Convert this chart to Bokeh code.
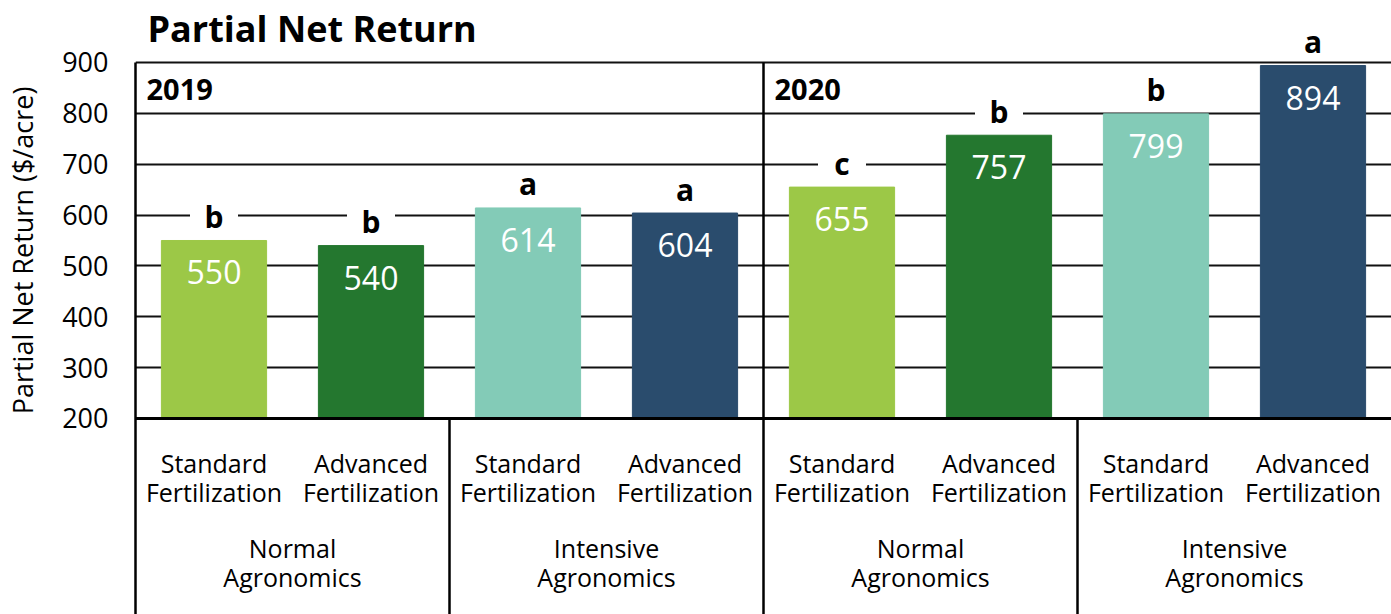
import numpy as np
from math import pi
from bokeh.plotting import figure
from bokeh.models import ColumnDataSource, FixedTicker, Range1d, Span, Label
from bokeh.core.properties import value
from bokeh.embed import file_html
from bokeh.resources import INLINE

# ---- data ----
years = ["2019", "2020"]
agronomics = ["Normal\nAgronomics", "Intensive\nAgronomics"]
fertilization = ["Standard\nFertilization", "Advanced\nFertilization"]
net_return = [550, 540, 614, 604, 655, 757, 799, 894]
letters = ["b", "b", "a", "a", "c", "b", "b", "a"]
bar_colors = ["#9CC847", "#24772F", "#83CBB7", "#2A4C6D"]
y_ticks = [200, 300, 400, 500, 600, 700, 800, 900]

FONT = "Open Sans"
W, H = 1391, 614
n_f, n_a, n_y = len(fertilization), len(agronomics), len(years)
n = n_f * n_a * n_y
idx = np.arange(n)
cat_labels = [fertilization[i % n_f] for i in range(n)]
colors = [bar_colors[i % (n_f * n_a)] for i in range(n)]

y_min, y_max = y_ticks[0], y_ticks[-1]
y_bottom, y_top = -185.4, 1021.9
units_per_px = (y_top - y_bottom) / H
letter_gap_px = 24
letter_y = [v + letter_gap_px * units_per_px for v in net_return]

src = ColumnDataSource(dict(x=idx, top=net_return, letter=letters, ly=letter_y,
                            lbl=[str(v) for v in net_return],
                            cat=cat_labels, color=colors))

p = figure(width=W, height=H, output_backend="svg", toolbar_location=None,
           x_range=Range1d(-0.5, n - 0.5), y_range=Range1d(y_bottom, y_top),
           min_border_left=135, min_border_right=0, min_border_top=0,
           min_border_bottom=0)
p.outline_line_color = None
p.background_fill_color = "white"
p.xaxis.visible = False
p.xgrid.visible = False

ax = p.yaxis[0]
ax.ticker = FixedTicker(ticks=y_ticks)
ax.bounds = (y_bottom, y_max)
ax.axis_line_color = "#000000"
ax.axis_line_width = 2.5
ax.major_tick_line_color = None
ax.minor_tick_line_color = None
ax.major_tick_out = 0
ax.major_tick_in = 0
ax.major_label_standoff = 27
ax.major_label_text_font = FONT
ax.major_label_text_font_size = "27px"
ax.major_label_text_color = "#000000"

p.ygrid.ticker = FixedTicker(ticks=y_ticks[1:])
p.ygrid.grid_line_color = "#111111"
p.ygrid.grid_line_width = 2

p.add_layout(Span(location=y_min, dimension="width", line_color="#000000", line_width=3))

# bars
p.vbar(x="x", top="top", bottom=y_min, width=0.67, color="color", source=src)

# value labels
p.text(x="x", y="top", text="lbl", source=src, text_color="white",
       text_font=value(FONT), text_font_size="32px", text_align="center",
       text_baseline="middle", y_offset=32)

# significance letters (white box breaks the grid line)
p.rect(x="x", y="ly", width=48, height=26, width_units="screen", height_units="screen",
       fill_color="white", line_color=None, source=src)
p.text(x="x", y="ly", text="letter", source=src, text_color="black",
       text_font=value(FONT), text_font_style="bold", text_font_size="30px",
       text_align="center", text_baseline="middle")

# dividers
group = n_f
year_size = n_f * n_a
sub_div = [i - 0.5 for i in range(group, n, group) if i % year_size != 0]
year_div = [i - 0.5 for i in range(year_size, n, year_size)]
p.segment(x0=sub_div, x1=sub_div, y0=[y_bottom] * len(sub_div), y1=[y_min] * len(sub_div),
          line_color="black", line_width=2.5)
p.segment(x0=year_div, x1=year_div, y0=[y_bottom] * len(year_div), y1=[y_max] * len(year_div),
          line_color="black", line_width=2.5)

# year labels
year_left = [i * year_size - 0.5 for i in range(n_y)]
p.text(x=year_left, y=[y_max] * n_y, text=years, text_font=value(FONT),
       text_font_style="bold", text_font_size="29px", text_color="black",
       text_align="left", text_baseline="middle", x_offset=11, y_offset=27)

# category labels
p.text(x="x", y=y_min, text="cat", source=src, text_font=value(FONT),
       text_font_size="25px", text_color="black", text_align="center",
       text_baseline="middle", text_line_height=0.88, y_offset=59)

grp_x = [i * group + (group - 1) / 2 for i in range(n // group)]
grp_text = [agronomics[i % n_a] for i in range(n // group)]
p.text(x=grp_x, y=[y_min] * len(grp_x), text=grp_text, text_font=value(FONT),
       text_font_size="25px", text_color="black", text_align="center",
       text_baseline="middle", text_line_height=0.88, y_offset=144)

# title
p.add_layout(Label(x=-0.5, y=y_max, x_offset=12, y_offset=34, text="Partial Net Return",
                   text_font=FONT, text_font_style="bold", text_font_size="36px",
                   text_color="black", text_baseline="middle", text_align="left"))

# axis title (placed in the left panel so it is not clipped by the frame)
p.add_layout(Label(x=-0.5, y=(y_min + y_max) / 2, x_offset=-113, y_offset=-10,
                   text="Partial Net Return ($/acre)", angle=pi / 2,
                   text_font=FONT, text_font_size="27px", text_color="black",
                   text_baseline="middle", text_align="center"), "left")

open("out.html", "w").write(file_html(p, INLINE))
